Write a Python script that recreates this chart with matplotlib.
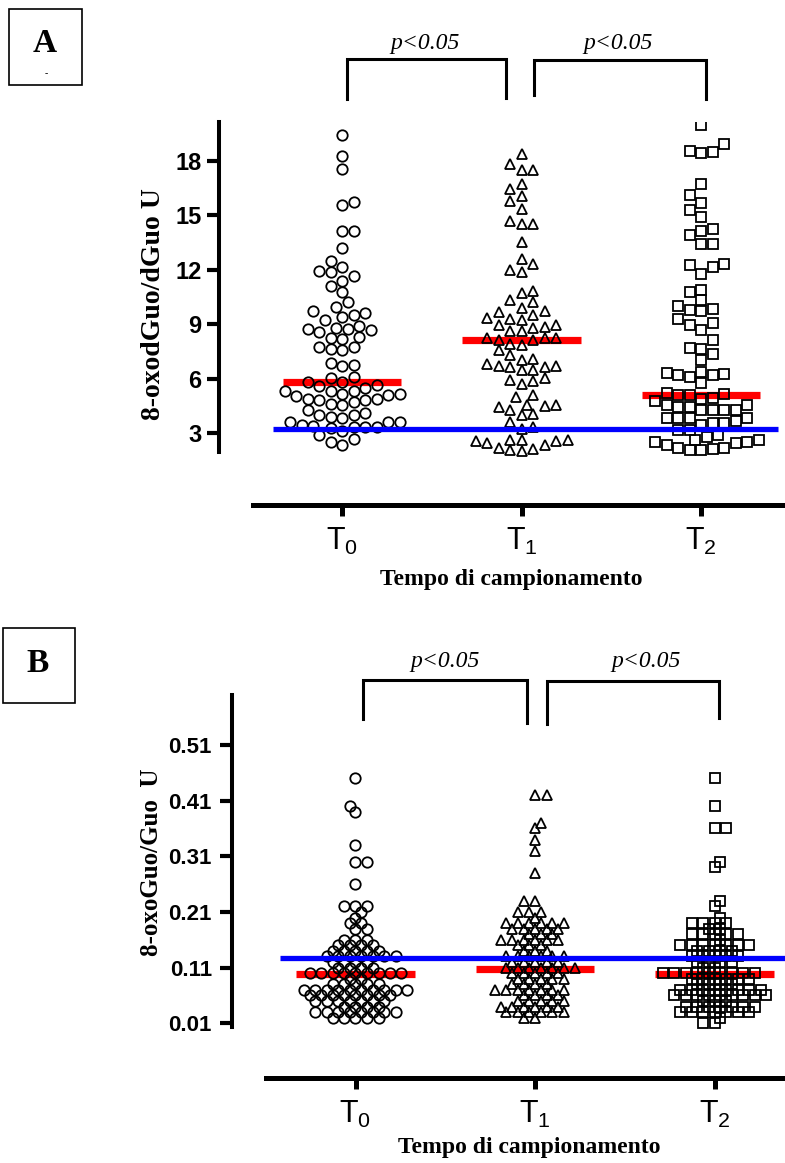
import matplotlib
matplotlib.use('Agg')
import matplotlib.pyplot as plt
import matplotlib.patches as patches
import numpy as np

plt.rcParams['font.family'] = ['Liberation Sans', 'DejaVu Sans']
plt.rcParams['mathtext.fontset'] = 'custom'
plt.rcParams['mathtext.rm'] = 'Liberation Sans'

groups = ['$\\mathregular{T_0}$', '$\\mathregular{T_1}$', '$\\mathregular{T_2}$']

# panel A: 8-oxodGuo/dGuo U
a_t0 = [19.41, 18.26, 17.58, 15.72, 15.6, 14.14, 14.14, 13.23, 12.49, 12.16,
        11.94, 11.9, 11.67, 11.4, 11.1, 10.76, 10.24, 9.96, 9.73, 9.62,
        9.5, 9.41, 9.23, 8.89, 8.82, 8.77, 8.73, 8.68, 8.58, 8.3,
        8.27, 8.18, 7.75, 7.75, 7.66, 7.57, 6.9, 6.79, 6.69, 6.1,
        6.05, 5.83, 5.83, 5.65, 5.58, 5.51, 5.31, 5.31, 5.31, 5.19,
        5.19, 5.1, 5.04, 4.91, 4.91, 4.85, 4.82, 4.72, 4.64, 4.55,
        4.3, 4.12, 3.99, 3.99, 3.9, 3.87, 3.62, 3.62, 3.62, 3.44,
        3.41, 3.35, 3.35, 3.35, 3.3, 3.12, 2.89, 2.71, 2.52, 2.34]
a_t1 = [18.41, 17.86, 17.49, 17.49, 16.76, 16.48, 16.06, 15.8, 15.38, 14.69,
        14.55, 14.55, 13.54, 12.63, 12.31, 11.98, 11.88, 10.83, 10.73, 10.37,
        10.24, 9.9, 9.73, 9.69, 9.54, 9.35, 9.28, 9.23, 8.95, 8.95,
        8.86, 8.82, 8.64, 8.62, 8.27, 8.27, 8.27, 8.16, 8.13, 7.94,
        7.84, 7.57, 7.29, 7.11, 7.06, 6.81, 6.7, 6.69, 6.65, 6.65,
        6.51, 6.47, 6.05, 5.96, 5.87, 5.69, 5.1, 5.0, 4.58, 4.56,
        4.49, 4.46, 4.27, 4.05, 3.99, 3.62, 3.35, 3.25, 2.65, 2.65,
        2.61, 2.56, 2.56, 2.46, 2.34, 2.19, 2.16, 2.06, 2.02]
a_t2 = [19.97, 18.96, 18.56, 18.5, 18.45, 16.72, 16.15, 15.69, 15.28, 14.89,
        14.28, 14.14, 13.9, 13.45, 13.41, 12.31, 12.26, 12.16, 11.79, 10.92,
        10.78, 10.33, 10.0, 9.87, 9.78, 9.73, 9.28, 9.08, 8.98, 8.71,
        8.16, 7.72, 7.66, 7.36, 7.02, 6.38, 6.32, 6.29, 6.2, 6.2,
        6.1, 5.77, 5.22, 5.19, 5.1, 5.1, 4.96, 4.91, 4.78, 4.58,
        4.55, 4.46, 4.46, 4.3, 4.3, 4.3, 4.3, 3.87, 3.87, 3.82,
        3.82, 3.68, 3.57, 3.57, 3.44, 3.2, 3.16, 2.89, 2.8, 2.61,
        2.61, 2.52, 2.52, 2.46, 2.34, 2.19, 2.19, 2.16, 2.06, 2.06]
a_medians = [5.83, 8.14, 5.11]
a_ref = 3.24
a_yticks = [3, 6, 9, 12, 15, 18]

# panel B: 8-oxoGuo/Guo U
b_t0 = ([0.45, 0.40, 0.39, 0.33, 0.30, 0.30, 0.26, 0.22, 0.22, 0.22, 0.21,
         0.20, 0.19, 0.19, 0.18, 0.18] + [0.16] * 3 + [0.15] * 4 + [0.14] * 5
        + [0.13] * 7 + [0.12] * 4 + [0.11] * 4 + [0.10] * 9 + [0.09] * 2
        + [0.08] * 5 + [0.07] * 10 + [0.06] * 8 + [0.05] * 7 + [0.04] * 4
        + [0.03] * 8 + [0.02] * 5)
b_t1 = ([0.42, 0.42, 0.37, 0.36, 0.34, 0.32, 0.28, 0.23, 0.23, 0.21, 0.21,
         0.21, 0.20] + [0.19] * 6 + [0.18] * 5 + [0.17] * 3 + [0.16] * 6
        + [0.15] * 3 + [0.14] * 3 + [0.13] * 6 + [0.12] * 5 + [0.11] * 7
        + [0.10] * 5 + [0.09] * 5 + [0.08] * 4 + [0.07] * 7 + [0.06] * 4
        + [0.05] * 5 + [0.04] * 6 + [0.03] * 6 + [0.02] * 2)
b_t2 = ([0.45, 0.40, 0.36, 0.36, 0.30, 0.29, 0.23, 0.22, 0.20] + [0.19] * 4
        + [0.18] * 2 + [0.17] * 5 + [0.16] + [0.15] * 7 + [0.14] * 4
        + [0.13] * 5 + [0.12] * 4 + [0.11] * 2 + [0.10] * 9 + [0.09] * 6
        + [0.08] * 4 + [0.07] * 8 + [0.06] * 9 + [0.05] * 3 + [0.04] * 7
        + [0.03] * 7 + [0.02] + [0.01] * 2)
b_medians = [0.098, 0.107, 0.098]
b_ref = 0.127
b_yticks = [0.01, 0.11, 0.21, 0.31, 0.41, 0.51]

markers = ['o', '^', 's']
msizes = [7.5, 7.8, 6.8]

W, H = 785, 1163
fig = plt.figure(figsize=(W / 100, H / 100), dpi=100)


def swarm_x(ax, vals, center, sx=11.5, sy=6.4):
    # simple beeswarm on a half-step grid, done in pixel space
    vals = np.asarray(vals, dtype=float)
    pix = ax.transData.transform(np.column_stack([np.full(len(vals), center), vals]))
    cx = pix[0, 0]
    py = pix[:, 1]
    xs = np.zeros(len(vals))
    placed = []
    for j, i in enumerate(np.argsort(py, kind='stable')):
        sign = 1 if j % 2 == 0 else -1
        cands = [0]
        for k in range(1, 40):
            cands += [sign * k, -sign * k]
        for k in cands:
            x = cx + k * sx / 2
            ok = True
            for (qx, qy) in placed:
                if ((x - qx) / sx) ** 2 + ((py[i] - qy) / sy) ** 2 < 1:
                    ok = False
                    break
            if ok:
                break
        placed.append((x, py[i]))
        xs[i] = x
    back = ax.transData.inverted().transform(np.column_stack([xs, py]))
    return back[:, 0]


def make_panel(left_px, bottom_px, top_px, centers_px, ylo, yhi, ybound, xbound_px,
               data, medians, ref, ref_x_px, yticks, ytick_fmt, ytick_size, ypad, sy):
    spacing = centers_px[1] - centers_px[0]
    ax = fig.add_axes([left_px / W, 1 - bottom_px / H, (W - left_px) / W,
                       (bottom_px - top_px) / H])
    ax.set_xlim((left_px - centers_px[0]) / spacing, (W - centers_px[0]) / spacing)
    ax.set_ylim(ylo, yhi)
    ax.patch.set_alpha(0)
    for s in ['top', 'right']:
        ax.spines[s].set_visible(False)
    ax.spines['left'].set_linewidth(2.9)
    ax.spines['bottom'].set_linewidth(3.6)
    ax.spines['left'].set_bounds(ybound, yhi)
    ax.spines['bottom'].set_bounds((xbound_px - centers_px[0]) / spacing,
                                   (W - centers_px[0]) / spacing)
    ax.set_yticks(yticks)
    ax.set_yticklabels([ytick_fmt.format(t) for t in yticks], fontsize=ytick_size,
                       fontweight='bold')
    ax.tick_params(axis='y', length=8.5, width=3, pad=ypad)
    ax.set_xticks([0, 1, 2])
    ax.set_xticklabels(groups, fontsize=22)
    ax.tick_params(axis='x', length=8, width=3.6, pad=7)

    for g, vals in enumerate(data):
        xs = swarm_x(ax, vals, g, sy=sy)
        ax.plot(xs, vals, linestyle='none', marker=markers[g], markersize=msizes[g],
                markerfacecolor='none', markeredgecolor='black', markeredgewidth=1.3,
                zorder=3)
        ax.plot([g - 0.33, g + 0.33], [medians[g], medians[g]], color='#ff0000',
                lw=5.2, solid_capstyle='butt', zorder=2)
    x0 = (ref_x_px[0] - centers_px[0]) / spacing
    x1 = (ref_x_px[1] - centers_px[0]) / spacing
    ax.plot([x0, x1], [ref, ref], color='#0000ff', lw=3.8, solid_capstyle='butt',
            zorder=4, clip_on=False)
    return ax


ax_a = make_panel(219, 505, 122, [342, 521.5, 701], -0.95, 20.15, 1.97, 253,
                  [a_t0, a_t1, a_t2], a_medians, a_ref, (273, 778),
                  a_yticks, '{:d}', 17, 4, 10.5)
ax_b = make_panel(232, 1078, 695, [355.5, 535, 714.5], -0.0883, 0.5997, 0.0033, 266,
                  [b_t0, b_t1, b_t2], b_medians, b_ref, (280, 785),
                  b_yticks, '{:.2f}', 16, 6, 6.4)

# overlay in pixel coordinates for labels, boxes and brackets
ov = fig.add_axes([0, 0, 1, 1])
ov.set_xlim(0, W)
ov.set_ylim(H, 0)
ov.axis('off')
ov.patch.set_alpha(0)

serif = ['Liberation Serif', 'DejaVu Serif']
ov.add_patch(patches.Rectangle((9, 9), 73, 76, fill=False, lw=1.2, ec='black'))
ov.text(45, 44, 'A', fontsize=24, fontweight='bold', family=serif, ha='center', va='center')
ov.text(46, 74, '-', fontsize=7, family=serif, ha='center', va='center')
ov.add_patch(patches.Rectangle((3, 628), 72, 75, fill=False, lw=1.2, ec='black'))
ov.text(38, 663, 'B', fontsize=24, fontweight='bold', family=serif, ha='center', va='center')

brackets = [([347, 347, 506, 506], [99, 59, 59, 98]),
            ([534, 534, 706, 706], [95, 60, 60, 99]),
            ([363, 363, 527, 527], [719, 680, 680, 723]),
            ([547, 547, 719, 719], [724, 681, 681, 718])]
for bx, by in brackets:
    ov.plot(bx, by, color='black', lw=2.2, solid_joinstyle='miter')
for (tx, ty) in [(425, 43), (618, 43), (445, 662), (646, 662)]:
    ov.text(tx, ty, 'p<0.05', fontsize=17, fontstyle='italic', family=serif,
            ha='center', va='center')

ov.text(154, 304, '8-oxodGuo/dGuo U', fontsize=20, fontweight='bold', family=serif,
        rotation=90, ha='center', va='center')
ov.text(151, 862, '8-oxoGuo/Guo  U', fontsize=18, fontweight='bold', family=serif,
        rotation=90, ha='center', va='center')
ov.text(511, 579, 'Tempo di campionamento', fontsize=17, fontweight='bold', family=serif,
        ha='center', va='center')
ov.text(529, 1148, 'Tempo di campionamento', fontsize=17, fontweight='bold', family=serif,
        ha='center', va='center')

fig.savefig('out.png', dpi=100)
